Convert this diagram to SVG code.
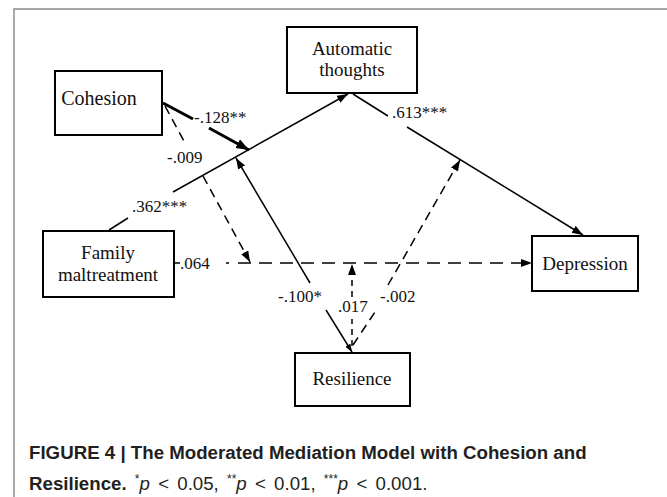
<svg xmlns="http://www.w3.org/2000/svg" width="667" height="497" viewBox="0 0 667 497">
<style>
.box{fill:#fff;stroke:#000;stroke-width:2}
.nt{font-family:"Liberation Serif","Times New Roman",serif;font-size:19px;fill:#111;text-anchor:middle}
.lb{font-family:"Liberation Serif","Times New Roman",serif;font-size:17px;fill:#111}
.ln{stroke:#000;stroke-width:1.5;fill:none}
.th{stroke:#000;stroke-width:3;fill:none}
.ds{stroke:#000;stroke-width:1.5;fill:none;stroke-dasharray:9 6}
.dh{stroke:#000;stroke-width:1.5;fill:none;stroke-dasharray:13 8}
.dv{stroke:#000;stroke-width:1.5;fill:none;stroke-dasharray:6 5}
.cap{font-family:"Liberation Sans",Arial,sans-serif;font-size:18.7px;fill:#231f20}
</style>
<defs>
<marker id="ah" markerUnits="userSpaceOnUse" markerWidth="12" markerHeight="10" refX="11" refY="4" orient="auto"><path d="M0,0 L11,4 L0,8 z" fill="#000"/></marker>
<marker id="ahb" markerUnits="userSpaceOnUse" markerWidth="14" markerHeight="12" refX="13" refY="5" orient="auto"><path d="M0,0 L13,5 L0,10 z" fill="#000"/></marker>
<marker id="ahs" markerUnits="userSpaceOnUse" markerWidth="10" markerHeight="8" refX="8" refY="3" orient="auto"><path d="M0,0 L8,3 L0,6 z" fill="#000"/></marker>
</defs>
<rect x="14" y="9" width="700" height="600" fill="#fff" stroke="#8a8a8a" stroke-width="1.5"/>
<g id="connectors">
<line class="ln" x1="109" y1="230" x2="128" y2="218"/>
<line class="ln" x1="173" y1="192" x2="348" y2="94" marker-end="url(#ah)"/>
<line class="ln" x1="353" y1="94" x2="388" y2="116"/>
<line class="ln" x1="407" y1="127" x2="583" y2="235" marker-end="url(#ah)"/>
<line class="th" x1="163" y1="103" x2="193" y2="119"/>
<line class="th" x1="209" y1="128" x2="249" y2="150" marker-end="url(#ahb)"/>
<line class="ds" x1="165" y1="106" x2="185" y2="143"/>
<line class="ds" x1="203" y1="176" x2="250" y2="262" marker-end="url(#ah)"/>
<line class="ln" x1="174" y1="263" x2="180" y2="263"/>
<line class="ln" x1="226" y1="263" x2="229" y2="263"/>
<line class="dh" x1="238" y1="263" x2="532" y2="263" marker-end="url(#ah)"/>
<line class="ln" x1="310" y1="283" x2="236" y2="158" marker-end="url(#ah)"/>
<line class="ln" x1="326" y1="310" x2="352" y2="352" marker-end="url(#ahs)"/>
<line class="dv" x1="352" y1="297" x2="352" y2="264" marker-end="url(#ah)"/>
<line class="dv" x1="352" y1="346" x2="352" y2="319"/>
<line class="ds" x1="353" y1="345" x2="377" y2="309"/>
<line class="ds" x1="388" y1="285" x2="460" y2="160" marker-end="url(#ah)"/>
<text class="lb" x="194" y="123">-.128**</text>
<text class="lb" x="392" y="118">.613***</text>
<text class="lb" x="132" y="212">.362***</text>
<text class="lb" x="167" y="163">-.009</text>
<text class="lb" x="180" y="269">.064</text>
<text class="lb" x="278" y="302">-.100*</text>
<text class="lb" x="338" y="312">.017</text>
<text class="lb" x="380" y="302">-.002</text>
</g>
<g id="cohesion">
<rect class="box" x="55" y="71" width="107" height="64"/>
<text class="nt" x="99" y="105" style="font-size:20px">Cohesion</text>
</g>
<g id="automatic-thoughts">
<rect class="box" x="287" y="27" width="130" height="66"/>
<text class="nt" x="352" y="55">Automatic</text>
<text class="nt" x="352" y="76">thoughts</text>
</g>
<g id="family-maltreatment">
<rect class="box" x="43" y="231" width="131" height="66"/>
<text class="nt" x="108" y="259">Family</text>
<text class="nt" x="108" y="281">maltreatment</text>
</g>
<g id="depression">
<rect class="box" x="532" y="236" width="106" height="55"/>
<text class="nt" x="585" y="270">Depression</text>
</g>
<g id="resilience">
<rect class="box" x="295" y="353" width="115" height="53"/>
<text class="nt" x="352" y="385">Resilience</text>
</g>
<g id="caption">
<text class="cap" x="29" y="459" font-weight="bold">FIGURE 4 | The Moderated Mediation Model with Cohesion and</text>
<text class="cap" x="29" y="490" word-spacing="3"><tspan font-weight="bold">Resilience.</tspan> <tspan font-size="12" dy="-7">*</tspan><tspan font-style="italic" dy="7">p</tspan> &lt; 0.05, <tspan font-size="12" dy="-7">**</tspan><tspan font-style="italic" dy="7">p</tspan> &lt; 0.01, <tspan font-size="12" dy="-7">***</tspan><tspan font-style="italic" dy="7">p</tspan> &lt; 0.001.</text>
</g>
</svg>
